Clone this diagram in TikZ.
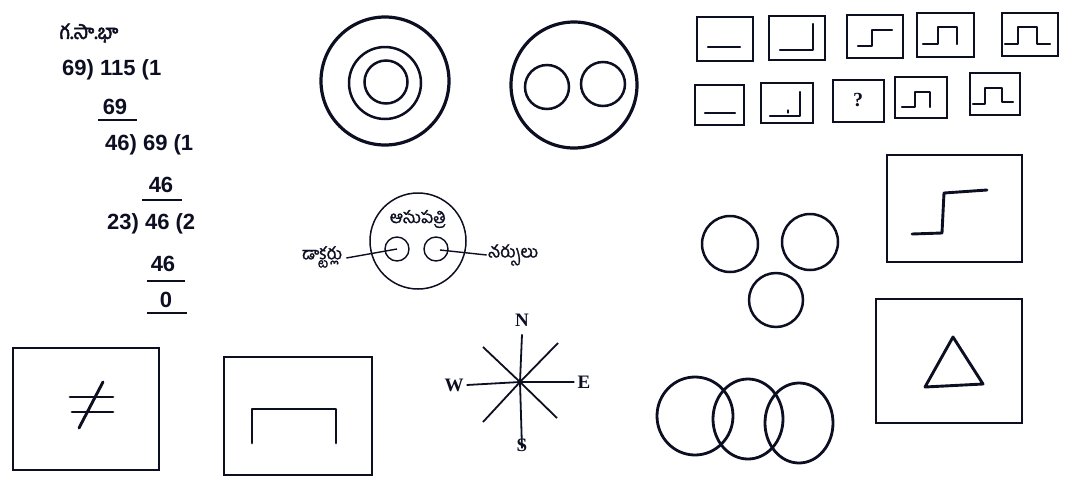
\documentclass[tikz,border=0pt]{standalone}
\usepackage{fontspec}
\setmainfont{Liberation Sans}
\newfontfamily\telugu[Script=Telugu, FakeBold=1.2]{Hind Guntur}
\newfontfamily\telugut[Script=Telugu, FakeBold=2.6]{Hind Guntur}
\newfontfamily\serifb{Liberation Serif}
\usetikzlibrary{positioning}
\definecolor{ink}{RGB}{12, 14, 34}
\tikzset{
  frame/.style={draw=ink, line width=2.6pt},
  ring/.style={draw=ink, line width=#1},
  shp/.style={draw=ink, line width=2.2pt, line join=round, line cap=round},
  num/.style={font=\fontsize{22}{24}\selectfont\bfseries, text=ink, inner sep=0pt},
  rule/.style={draw=ink, line width=2.2pt},
  tel/.style={font=\fontsize{17}{19}\selectfont\telugu, text=ink, inner sep=1pt},
  dir/.style={font=\fontsize{19}{20}\selectfont\serifb\bfseries, text=ink, inner sep=0pt},
  ray/.style={draw=ink, line width=1.8pt},
}

\begin{document}
\begin{tikzpicture}[x=1pt, y=-1pt]
  \useasboundingbox (0, 0) rectangle (1085, 499);
  % long division
  \node[tel, font=\fontsize{20}{22}\selectfont\telugut] (gsb) at (89, 33) {గ.సా.భా};
  \node[num, anchor=west] (d1) at (62, 70) {69) 115 (1};
  \node[num] (s1) at (115, 107) {69};
  \draw[rule] (98, 120) -- (137, 120);
  \node[num, anchor=west] (d2) at (105, 145) {46) 69 (1};
  \node[num] (s2) at (161, 185) {46};
  \draw[rule] (142, 200) -- (182, 200);
  \node[num, anchor=west] (d3) at (107, 224) {23) 46 (2};
  \node[num] (s3) at (163, 264) {46};
  \draw[rule] (147, 281) -- (185, 281);
  \node[num] (r0) at (166, 300) {0};
  \draw[rule] (147, 313) -- (187, 313);
  % concentric circles
  \draw[ring=3.2pt] (385, 81) circle[radius=64];
  \draw[ring=2.5pt] (385, 83) circle[radius=36];
  \draw[ring=2.5pt] (386, 82) circle[radius=21.5];
  % circle with two circles
  \draw[ring=3.2pt] (574, 85) circle[radius=63];
  \draw[ring=2.5pt] (547, 87) circle[radius=22];
  \draw[ring=2.5pt] (603, 84) circle[radius=22];
  % hospital
  \draw[ring=1.5pt] (418, 241) circle[radius=48];
  \coordinate (doc) at (397, 249);
  \coordinate (nur) at (436, 249);
  \draw[ring=1.4pt] (doc) circle[radius=12];
  \draw[ring=1.4pt] (nur) circle[radius=12];
  \node[tel] (hosp) at (418, 219) {ఆసుపత్రి};
  \node[tel] (docl) at (322, 257) {డాక్టర్లు};
  \node[tel] (nurl) at (513, 255) {నర్సులు};
  \draw[ink, line width=1.4pt] (docl.east) ++(3, 1) -- (doc);
  \draw[ink, line width=1.4pt] (nur) ++(4, 1) -- (nurl.west);
  % series, first row
  \draw[frame] (697, 17) rectangle (753, 61);
  \draw[shp] (708, 47) -- (740, 47);
  \draw[frame] (769, 16) rectangle (825, 60);
  \draw[shp] (780, 50) -- (813, 50) -- (813, 24);
  \draw[frame] (847, 15) rectangle (903, 58);
  \draw[shp] (858, 46) -- (872, 46) -- (872, 30) -- (892, 30);
  \draw[frame] (917, 13) rectangle (974, 57);
  \draw[shp] (923, 44) -- (938, 44) -- (938, 27) -- (957, 27) -- (957, 44);
  \draw[frame] (1002, 13) rectangle (1058, 56);
  \draw[shp] (1005, 44) -- (1018, 44) -- (1018, 27) -- (1037, 27) -- (1037, 44) -- (1050, 44);
  % series, second row
  \draw[frame] (695, 85) rectangle (744, 125);
  \draw[shp] (705, 113) -- (735, 113);
  \draw[frame] (761, 83) rectangle (813, 123);
  \draw[shp] (770, 116) -- (800, 116) -- (800, 92);
  \draw[shp, line width=1.3pt] (788, 110) -- (788, 113);
  \draw[frame] (833, 80) rectangle (884, 122);
  \node[dir, font=\fontsize{20}{22}\selectfont\serifb\bfseries] (qm) at (858, 100) {?};
  \draw[frame] (895, 77) rectangle (947, 118);
  \draw[shp] (902, 107) -- (915, 107) -- (915, 92) -- (930, 92) -- (930, 107);
  \draw[frame] (970, 73) rectangle (1020, 115);
  \draw[shp] (973, 104) -- (985, 104) -- (985, 88) -- (1002, 88) -- (1002, 102) -- (1013, 102);
  % step figure
  \draw[frame, line width=2.9pt] (887, 155) rectangle (1022, 262);
  \draw[shp, line width=2.9pt] (912, 234) -- (942, 233) -- (944, 193) -- (987, 190);
  % three separate circles
  \draw[ring=2.5pt] (730, 244) circle[radius=28];
  \draw[ring=2.5pt] (810, 242) circle[radius=28];
  \draw[ring=2.5pt] (776, 300) circle[radius=27];
  % triangle figure
  \draw[frame, line width=2.9pt] (876, 299) rectangle (1022, 423);
  \draw[shp, line width=2.9pt] (953, 337) -- (983, 384) -- (925, 387) -- cycle;
  % overlapping circles
  \draw[ring=2.8pt] (695, 416) ellipse[x radius=38, y radius=39];
  \draw[ring=2.8pt] (748, 419) ellipse[x radius=35, y radius=40];
  \draw[ring=2.8pt] (799, 423) ellipse[x radius=34, y radius=40];
  % not equal figure
  \draw[frame, line width=2.9pt] (13, 348) rectangle (159, 470);
  \draw[shp, line width=2.9pt] (70, 397) -- (113, 397);
  \draw[shp, line width=2.9pt] (72, 412) -- (113, 412);
  \draw[shp, line width=2.9pt] (103, 382) -- (79, 428);
  % bracket figure
  \draw[frame, line width=2.9pt] (224, 357) rectangle (372, 475);
  \draw[shp, line width=2.9pt] (252, 443) -- (252, 409) -- (336, 409) -- (336, 443);
  % compass
  \coordinate (cc) at (520, 382);
  \node[dir] (north) at (522, 320) {N};
  \node[dir] (south) at (522, 445) {S};
  \node[dir] (west) at (454, 385) {W};
  \node[dir] (east) at (584, 382) {E};
  \draw[ray] (north.south) ++(0, 8) -- (cc) -- ([yshift=-10]south.north);
  \draw[ray] (west.east) ++(3, 0) -- (cc) -- ([xshift=-3]east.west);
  \draw[ray] (483, 347) -- (cc) -- (557, 418);
  \draw[ray] (558, 343) -- (cc) -- (483, 422);
\end{tikzpicture}
\end{document}
